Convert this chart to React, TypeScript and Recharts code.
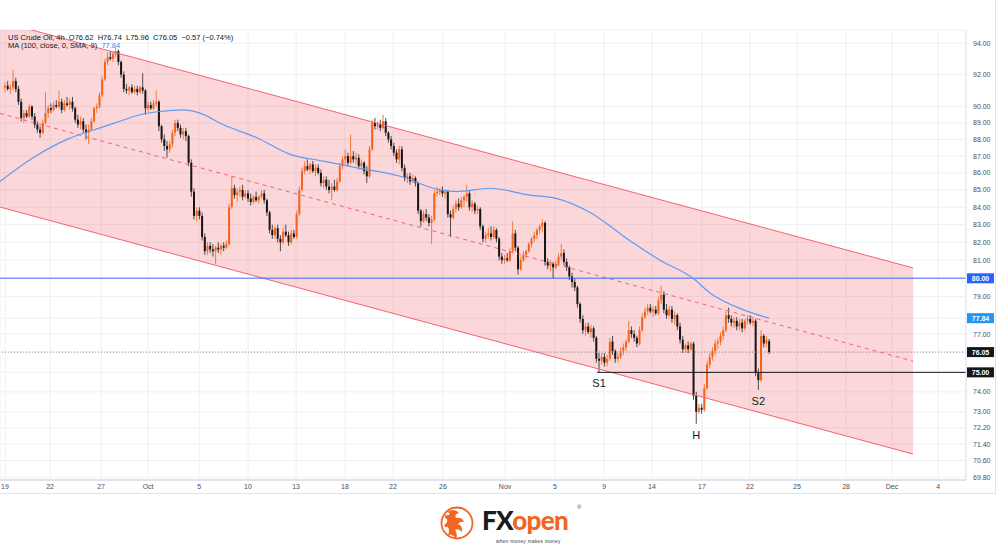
import {
  ComposedChart,
  Bar,
  Line,
  Area,
  XAxis,
  YAxis,
  CartesianGrid,
  ReferenceLine,
  ReferenceDot,
} from 'recharts';

// 4h candles, [open, high, low, close]
const candles: [number, number, number, number][] = [
  [91.2, 91.5, 90.9, 91.3], [91.3, 91.6, 91.0, 91.1], [91.1, 91.4, 90.8, 91.2], [91.2, 92.3, 91.0, 91.6],
  [91.6, 91.8, 90.9, 91.1], [91.1, 91.3, 90.1, 90.3], [90.3, 90.5, 89.1, 89.3], [89.3, 89.8, 89.0, 89.6],
  [89.6, 89.8, 89.3, 89.4], [89.4, 90.2, 89.3, 90.0], [90.0, 90.1, 89.2, 89.4], [89.4, 89.6, 88.7, 88.9],
  [88.9, 89.1, 88.4, 88.6], [88.6, 88.8, 88.1, 88.4], [88.4, 89.2, 88.3, 89.0], [89.0, 90.9, 88.9, 89.6],
  [89.6, 90.1, 89.3, 89.9], [89.9, 90.2, 89.6, 89.8], [89.8, 90.3, 89.7, 90.1], [90.1, 90.4, 89.9, 90.0],
  [90.0, 91.0, 89.9, 90.3], [90.3, 90.5, 89.6, 89.8], [89.8, 90.4, 89.7, 90.2], [90.2, 90.6, 90.0, 90.1],
  [90.1, 90.5, 89.8, 90.3], [90.3, 90.6, 89.7, 89.9], [89.9, 90.0, 89.0, 89.2], [89.2, 89.5, 88.7, 88.9],
  [88.9, 89.4, 88.6, 89.1], [89.1, 89.3, 88.4, 88.6], [88.6, 88.9, 88.0, 88.4], [88.4, 88.9, 87.7, 88.6],
  [88.6, 89.3, 88.5, 89.1], [89.1, 90.0, 89.0, 89.9], [89.9, 90.2, 89.6, 90.0], [90.0, 90.9, 89.9, 90.7],
  [90.7, 91.9, 90.6, 91.7], [91.7, 93.0, 91.6, 92.8], [92.8, 93.4, 92.6, 93.1], [93.1, 93.5, 92.9, 93.0],
  [93.0, 93.5, 92.8, 93.3], [93.3, 93.7, 93.1, 93.5], [93.5, 93.6, 92.6, 92.8], [92.8, 92.9, 91.8, 92.0],
  [92.0, 92.2, 90.9, 91.1], [91.1, 91.4, 90.8, 91.0], [91.0, 91.3, 90.7, 91.2], [91.2, 91.4, 90.8, 90.9],
  [90.9, 91.3, 90.8, 91.1], [91.1, 91.3, 90.7, 90.9], [90.9, 91.3, 90.8, 91.2], [91.2, 92.1, 90.8, 91.0],
  [91.0, 91.1, 89.5, 89.9], [89.9, 90.3, 89.7, 90.1], [90.1, 90.3, 89.8, 89.9], [89.9, 90.4, 89.8, 90.2],
  [90.2, 91.0, 90.0, 90.3], [90.3, 90.4, 88.5, 88.8], [88.8, 88.9, 87.8, 88.0], [88.0, 88.3, 87.3, 87.6],
  [87.6, 87.9, 86.9, 87.4], [87.4, 87.9, 87.2, 87.7], [87.7, 88.6, 87.5, 88.4], [88.4, 89.2, 88.2, 89.0],
  [89.0, 89.2, 88.5, 88.7], [88.7, 88.9, 88.1, 88.3], [88.3, 88.7, 88.0, 88.5], [88.5, 88.7, 87.9, 88.2],
  [88.2, 88.3, 86.4, 86.6], [86.6, 86.8, 84.6, 84.9], [84.9, 85.1, 83.3, 83.5], [83.5, 84.0, 83.2, 83.8],
  [83.8, 84.0, 83.3, 83.5], [83.5, 83.7, 82.1, 82.3], [82.3, 82.5, 81.3, 81.5], [81.5, 82.0, 81.3, 81.8],
  [81.8, 82.0, 81.4, 81.6], [81.6, 81.9, 81.2, 81.5], [81.5, 81.8, 80.8, 81.7], [81.7, 82.0, 81.4, 81.6],
  [81.6, 81.9, 81.3, 81.8], [81.8, 82.0, 81.5, 81.7], [81.7, 82.1, 81.6, 81.9], [81.9, 84.2, 81.8, 84.0],
  [84.0, 85.8, 83.9, 85.1], [85.1, 85.3, 84.5, 84.7], [84.7, 85.1, 84.3, 84.9], [84.9, 85.2, 84.6, 85.0],
  [85.0, 85.3, 84.4, 84.6], [84.6, 85.0, 84.5, 84.8], [84.8, 85.0, 84.3, 84.5], [84.5, 84.8, 84.1, 84.3],
  [84.3, 84.7, 84.2, 84.6], [84.6, 84.9, 84.3, 84.4], [84.4, 84.7, 84.2, 84.6], [84.6, 85.0, 84.5, 84.8],
  [84.8, 85.0, 84.2, 84.4], [84.4, 84.5, 83.5, 83.7], [83.7, 83.8, 82.5, 82.7], [82.7, 83.0, 82.2, 82.4],
  [82.4, 82.9, 82.2, 82.8], [82.8, 83.0, 82.0, 82.2], [82.2, 82.4, 81.5, 82.0], [82.0, 82.8, 81.9, 82.6],
  [82.6, 83.0, 82.3, 82.4], [82.4, 82.6, 81.8, 82.0], [82.0, 82.7, 81.9, 82.5], [82.5, 82.7, 82.2, 82.3],
  [82.3, 83.8, 82.2, 83.6], [83.6, 85.2, 83.5, 85.0], [85.0, 86.3, 84.9, 86.1], [86.1, 86.7, 85.9, 86.4],
  [86.4, 86.8, 86.1, 86.2], [86.2, 86.6, 85.9, 86.5], [86.5, 86.7, 86.0, 86.1], [86.1, 86.5, 85.8, 86.3],
  [86.3, 86.5, 85.9, 86.0], [86.0, 86.2, 85.2, 85.4], [85.4, 85.8, 85.1, 85.6], [85.6, 85.8, 85.0, 85.2],
  [85.2, 85.6, 84.8, 85.0], [85.0, 85.4, 84.4, 85.2], [85.2, 85.6, 84.9, 85.0], [85.0, 85.7, 84.9, 85.5],
  [85.5, 86.6, 85.4, 86.4], [86.4, 87.0, 86.2, 86.8], [86.8, 87.4, 86.5, 87.0], [87.0, 87.2, 86.4, 86.6],
  [86.6, 88.3, 86.5, 87.0], [87.0, 87.3, 86.6, 86.8], [86.8, 87.2, 86.5, 86.9], [86.9, 87.1, 86.2, 86.4],
  [86.4, 86.8, 86.2, 86.6], [86.6, 86.7, 85.9, 86.1], [86.1, 86.4, 85.4, 85.8], [85.8, 87.6, 85.7, 87.4],
  [87.4, 89.2, 87.3, 89.0], [89.0, 89.3, 88.6, 88.8], [88.8, 89.1, 88.6, 88.9], [88.9, 89.2, 88.5, 88.7],
  [88.7, 89.5, 88.6, 89.1], [89.1, 89.3, 88.2, 88.4], [88.4, 88.5, 87.8, 88.0], [88.0, 88.2, 87.4, 87.6],
  [87.6, 87.8, 87.0, 87.2], [87.2, 87.4, 86.6, 86.8], [86.8, 87.6, 86.5, 87.4], [87.4, 87.6, 86.1, 86.3],
  [86.3, 86.5, 85.5, 85.7], [85.7, 86.0, 85.4, 85.8], [85.8, 86.0, 85.3, 85.5], [85.5, 85.9, 85.4, 85.7],
  [85.7, 85.8, 85.2, 85.4], [85.4, 85.5, 83.6, 83.8], [83.8, 83.9, 82.9, 83.2], [83.2, 83.8, 83.1, 83.6],
  [83.6, 83.9, 83.2, 83.4], [83.4, 83.6, 82.9, 83.1], [83.1, 83.5, 81.9, 83.3], [83.3, 85.0, 83.2, 84.8],
  [84.8, 85.2, 84.6, 84.9], [84.9, 85.1, 84.7, 85.0], [85.0, 85.2, 84.6, 84.8], [84.8, 85.0, 84.5, 84.9],
  [84.9, 85.0, 83.4, 83.6], [83.6, 83.8, 82.3, 83.4], [83.4, 84.1, 83.3, 83.9], [83.9, 84.4, 83.7, 84.2],
  [84.2, 84.5, 83.8, 84.0], [84.0, 84.6, 83.9, 84.4], [84.4, 84.7, 84.0, 84.6], [84.6, 85.3, 84.3, 84.8],
  [84.8, 85.0, 83.8, 84.0], [84.0, 84.4, 83.7, 84.2], [84.2, 84.3, 83.6, 83.8], [83.8, 84.1, 83.6, 83.9],
  [83.9, 84.0, 82.7, 82.9], [82.9, 83.0, 82.0, 82.2], [82.2, 82.6, 82.0, 82.4], [82.4, 82.8, 82.2, 82.5],
  [82.5, 82.9, 82.1, 82.3], [82.3, 82.9, 82.2, 82.7], [82.7, 82.8, 82.0, 82.2], [82.2, 82.3, 81.0, 81.2],
  [81.2, 81.4, 80.8, 81.0], [81.0, 81.3, 80.8, 81.1], [81.1, 81.4, 80.9, 81.0], [81.0, 81.7, 80.9, 81.5],
  [81.5, 83.2, 81.4, 82.5], [82.5, 82.7, 81.5, 81.7], [81.7, 81.8, 80.2, 80.5], [80.5, 81.2, 80.4, 81.0],
  [81.0, 81.5, 80.9, 81.3], [81.3, 81.6, 81.1, 81.5], [81.5, 82.0, 81.4, 81.9], [81.9, 82.3, 81.7, 82.2],
  [82.2, 82.6, 82.0, 82.4], [82.4, 82.8, 82.2, 82.7], [82.7, 83.0, 82.5, 82.9], [82.9, 83.3, 82.6, 83.1],
  [83.1, 83.2, 80.7, 80.9], [80.9, 81.1, 80.5, 80.7], [80.7, 81.0, 80.4, 80.8], [80.8, 80.9, 80.0, 80.6],
  [80.6, 81.0, 80.5, 80.8], [80.8, 81.4, 80.7, 81.2], [81.2, 81.9, 81.0, 81.4], [81.4, 81.6, 80.7, 80.9],
  [80.9, 81.1, 80.4, 80.6], [80.6, 80.7, 79.9, 80.1], [80.1, 80.3, 79.5, 79.8], [79.8, 80.0, 79.3, 79.5],
  [79.5, 79.6, 78.4, 78.6], [78.6, 78.7, 77.6, 77.8], [77.8, 78.0, 77.0, 77.2], [77.2, 77.6, 76.9, 77.4],
  [77.4, 77.6, 77.0, 77.1], [77.1, 77.5, 76.8, 77.3], [77.3, 77.4, 76.6, 76.8], [76.8, 76.9, 75.5, 75.7],
  [75.7, 76.0, 75.0, 75.6], [75.6, 76.0, 75.4, 75.8], [75.8, 76.0, 75.3, 75.5], [75.5, 75.9, 75.3, 75.7],
  [75.7, 76.8, 75.6, 76.6], [76.6, 76.9, 75.9, 76.1], [76.1, 76.2, 75.5, 75.7], [75.7, 76.0, 75.5, 75.8],
  [75.8, 76.3, 75.7, 76.1], [76.1, 76.5, 75.9, 76.3], [76.3, 76.7, 76.1, 76.6], [76.6, 77.7, 76.5, 77.2],
  [77.2, 77.4, 76.8, 77.0], [77.0, 77.2, 76.6, 76.8], [76.8, 76.9, 76.3, 76.5], [76.5, 77.4, 76.4, 77.2],
  [77.2, 78.1, 77.1, 77.9], [77.9, 78.4, 77.8, 78.2], [78.2, 78.6, 78.0, 78.4], [78.4, 78.6, 78.1, 78.2],
  [78.2, 78.5, 77.9, 78.3], [78.3, 78.5, 78.0, 78.1], [78.1, 79.0, 78.0, 78.8], [78.8, 79.6, 78.6, 79.1],
  [79.1, 79.3, 78.1, 78.3], [78.3, 78.6, 77.8, 78.0], [78.0, 78.5, 77.9, 78.3], [78.3, 78.5, 77.6, 77.8],
  [77.8, 78.2, 77.5, 78.0], [78.0, 78.1, 77.2, 77.4], [77.4, 77.6, 76.5, 76.7], [76.7, 76.9, 76.0, 76.2],
  [76.2, 76.5, 76.0, 76.4], [76.4, 76.6, 76.0, 76.2], [76.2, 76.6, 76.1, 76.5], [76.5, 76.6, 73.6, 73.8],
  [73.8, 74.0, 72.4, 73.0], [73.0, 73.4, 72.9, 73.2], [73.2, 73.4, 72.9, 73.1], [73.1, 74.4, 73.0, 74.2],
  [74.2, 75.6, 74.1, 75.4], [75.4, 76.0, 75.2, 75.8], [75.8, 76.3, 75.6, 76.1], [76.1, 76.7, 75.9, 76.5],
  [76.5, 76.8, 76.2, 76.6], [76.6, 77.1, 76.4, 76.9], [76.9, 77.4, 76.7, 77.2], [77.2, 78.2, 77.1, 78.0],
  [78.0, 78.4, 77.6, 77.8], [77.8, 78.0, 77.4, 77.6], [77.6, 77.9, 77.3, 77.7], [77.7, 77.9, 77.2, 77.4],
  [77.4, 77.8, 77.2, 77.6], [77.6, 77.8, 77.1, 77.3], [77.3, 77.8, 77.2, 77.7], [77.7, 78.0, 77.5, 77.8],
  [77.8, 78.0, 77.5, 77.6], [77.6, 77.9, 77.4, 77.7], [77.7, 77.8, 74.8, 75.0], [75.0, 75.2, 74.1, 74.6],
  [74.6, 77.2, 74.5, 76.9], [76.9, 77.0, 76.3, 76.5], [76.5, 76.9, 76.3, 76.7], [76.62, 76.74, 75.96, 76.05],
];

// MA(100) read at a few bars
const maIdx = [-1.85, 10.4, 23, 35.2, 42.6, 50, 57.4, 65.9, 72.2, 80.7, 93.3, 105.6, 117.8, 130.4, 146.3, 161.1, 167.4, 179.6, 194.4, 204.4, 216.7, 230.4, 242.6, 254.8, 261.1, 273.3, 283];
const maValues = [85.5, 86.9, 88.0, 88.7, 89.1, 89.5, 89.7, 89.8, 89.6, 88.9, 88.1, 87.1, 86.7, 86.3, 85.8, 85.0, 84.9, 85.1, 84.7, 84.5, 83.7, 82.2, 81.0, 80.0, 79.2, 78.3, 77.84];

// descending channel
const channelIdx = [-1.85, 336.3];
const channelUpper = [95.42, 80.57];
const channelMid = [89.58, 75.58];
const channelLower = [84.01, 70.91];

const dateTickIdx = [0, 16.7, 35.6, 53, 71.9, 90, 107.8, 125.9, 143.7, 162.2, 185.2, 203.7, 221.9, 239.6, 258.1, 275.9, 293.3, 311.5, 328.5, 345.6];
const dateLabels = ['19', '22', '27', 'Oct', '5', '10', '13', '18', '22', '26', 'Nov', '5', '9', '14', '17', '22', '25', '28', 'Dec', '4'];

const priceTicks = [94, 92, 90, 89, 88, 87, 86, 85, 84, 83, 82, 81, 80, 79, 77.84, 77, 76.05, 75, 74, 73, 72.2, 71.4, 70.6, 69.8];

const lastPrice = 76.05;
const maLast = 77.84;
const level80 = 80;
const level75 = 75;

const marks = [
  { i: 220, price: 75.0, text: 'S1' },
  { i: 256, price: 72.4, text: 'H' },
  { i: 279, price: 74.1, text: 'S2' },
];

const ORANGE = '#f5621a';
const BLACK = '#161616';
const FONT = '"Liberation Sans", Arial, sans-serif';

const rows = candles.map((c, i) => ({ i, range: [c[2], c[1]], o: c[0], h: c[1], l: c[2], c: c[3] }));
const maRows = maIdx.map((i, k) => ({ i, ma: maValues[k] }));
const channelRows = channelIdx.map((i, k) => ({
  i,
  band: [channelLower[k], channelUpper[k]],
  upper: channelUpper[k],
  mid: channelMid[k],
  lower: channelLower[k],
}));

const boxed: Record<string, string> = {
  '80': '#2962ff',
  '77.84': '#2196f3',
  '76.05': '#131722',
  '75': '#131722',
};

function Candle(props: any) {
  const { x, y, width, height, payload } = props;
  if (!payload || x == null || y == null) return null;
  const { o, h, l, c } = payload;
  const top = Math.min(y, y + height);
  const span = Math.abs(height);
  const k = Math.log(h) - Math.log(l);
  const py = (p: number) => (k === 0 ? top : top + ((Math.log(h) - Math.log(p)) / k) * span);
  const cx = x + width / 2;
  const up = c >= o;
  const bTop = py(Math.max(o, c));
  const bBot = py(Math.min(o, c));
  return (
    <g>
      <line x1={cx} x2={cx} y1={top} y2={top + span} stroke={up ? '#f47a3c' : '#4a4a4a'} strokeWidth={1} />
      <rect x={cx - 1} y={bTop} width={2} height={Math.max(1, bBot - bTop)} fill={up ? ORANGE : BLACK} />
    </g>
  );
}

function PriceTick(props: any) {
  const { x, y, payload } = props;
  const v = payload.value as number;
  const bg = boxed[String(v)];
  if (bg) {
    return (
      <g>
        <rect x={x + 1} y={y - 5} width={27} height={10} fill={bg} />
        <text x={x + 14.5} y={y + 2.5} textAnchor="middle" fontSize={7} fill="#fff" fontFamily={FONT} fontWeight={700}>
          {v.toFixed(2)}
        </text>
      </g>
    );
  }
  return (
    <text x={x + 7} y={y + 2.5} fontSize={7} fill="#4a4e5a" fontFamily={FONT}>
      {v.toFixed(2)}
    </text>
  );
}

function Logo() {
  return (
    <svg width={1000} height={49} style={{ position: 'absolute', left: 0, top: 500 }}>
      <circle cx={457} cy={23} r={15.5} fill="none" stroke="#f26522" strokeWidth={1.8} />
      <path
        d="M449 11 q6 -3 10 2 q-5 1 -3 5 q6 -1 8 4 q-4 -1 -6 2 q5 2 4 8 q-3 -4 -7 -2 q3 4 1 9 q-3 -5 -8 -4 q2 -4 0 -8 q-3 1 -4 -2 q4 -2 3 -6 q-3 -1 -2 -4 q3 1 5 -1 q-3 -2 -1 -3 z"
        fill="#f26522"
      />
      <text x={482} y={30} fontFamily='"Lato", "Open Sans", sans-serif' fontWeight={900} fontSize={26} letterSpacing={-0.6}>
        <tspan fill="#1b1b1b">FX</tspan>
        <tspan fill="#f26522">open</tspan>
      </text>
      <text x={577} y={9} fontSize={6} fill="#555" fontFamily={FONT}>®</text>
      <text x={496} y={43} fontSize={4.6} fill="#333" fontFamily={FONT} letterSpacing={0.4}>
        when money makes money
      </text>
    </svg>
  );
}

export default function App() {
  return (
    <div style={{ position: 'absolute', left: 0, top: 0, width: 1000, height: 549, background: '#fff', fontFamily: FONT }}>
      <div style={{ position: 'absolute', left: 0, top: 0, width: 995, height: 493, borderRight: '1px solid #e0e3eb', borderBottom: '1px solid #e0e3eb' }}>
        <ComposedChart width={995} height={493} data={rows} margin={{ top: 30, right: 0, left: 0, bottom: 0 }}>
          <CartesianGrid stroke="#eef0f4" />
          <XAxis
            dataKey="i"
            type="number"
            domain={[-1.85, 355.9]}
            allowDataOverflow
            ticks={dateTickIdx}
            tickFormatter={(v: number) => dateLabels[dateTickIdx.indexOf(v)] ?? ''}
            interval={0}
            height={13}
            tickLine={false}
            tickSize={4}
            tickMargin={0}
            axisLine={{ stroke: '#e0e3eb', strokeWidth: 2 }}
            tick={{ fontSize: 7, fill: '#4a4e5a', fontFamily: FONT }}
          />
          <YAxis
            orientation="right"
            scale="log"
            type="number"
            domain={[69.66, 94.86]}
            allowDataOverflow
            ticks={priceTicks}
            interval={0}
            width={29}
            tickLine={false}
            tickSize={0}
            tickMargin={0}
            axisLine={{ stroke: '#e0e3eb' }}
            tick={<PriceTick />}
          />
          <Area data={channelRows} dataKey="band" type="linear" fill="#f23645" fillOpacity={0.2} stroke="none" isAnimationActive={false} />
          <Line data={channelRows} dataKey="upper" type="linear" stroke="#f5626e" strokeWidth={1} dot={false} isAnimationActive={false} />
          <Line data={channelRows} dataKey="lower" type="linear" stroke="#f5626e" strokeWidth={1} dot={false} isAnimationActive={false} />
          <Line data={channelRows} dataKey="mid" type="linear" stroke="#f5626e" strokeWidth={1} strokeDasharray="4 4" dot={false} isAnimationActive={false} />
          <ReferenceLine y={level80} stroke="#2962ff" strokeOpacity={0.6} strokeWidth={1.5} />
          <ReferenceLine y={lastPrice} stroke="#8a8d96" strokeDasharray="1 2" />
          <ReferenceLine segment={[{ x: 219.3, y: level75 }, { x: 355.9, y: level75 }]} stroke="#131722" strokeWidth={1} />
          <Line data={maRows} dataKey="ma" type="monotone" stroke="#5b9cf6" strokeWidth={1.2} dot={false} isAnimationActive={false} />
          <Bar dataKey="range" barSize={2} shape={<Candle />} isAnimationActive={false} />
          {marks.map((m) => (
            <ReferenceDot
              key={m.text}
              x={m.i}
              y={m.price}
              r={0}
              fill="none"
              stroke="none"
              label={{ value: m.text, position: 'bottom', offset: 7, fontSize: 11, fill: '#131722', fontFamily: FONT }}
            />
          ))}
        </ComposedChart>
      </div>
      <div style={{ position: 'absolute', left: 8, top: 34, fontSize: 7.5, lineHeight: '8px', color: '#131722', whiteSpace: 'pre' }}>
        <div>{'US Crude Oil, 4h  O76.62  H76.74  L75.96  C76.05  −0.57 (−0.74%)'}</div>
        <div>
          {'MA (100, close, 0, SMA, 9)  '}
          <span style={{ color: '#2196f3' }}>{maLast.toFixed(2)}</span>
        </div>
      </div>
      <Logo />
    </div>
  );
}
